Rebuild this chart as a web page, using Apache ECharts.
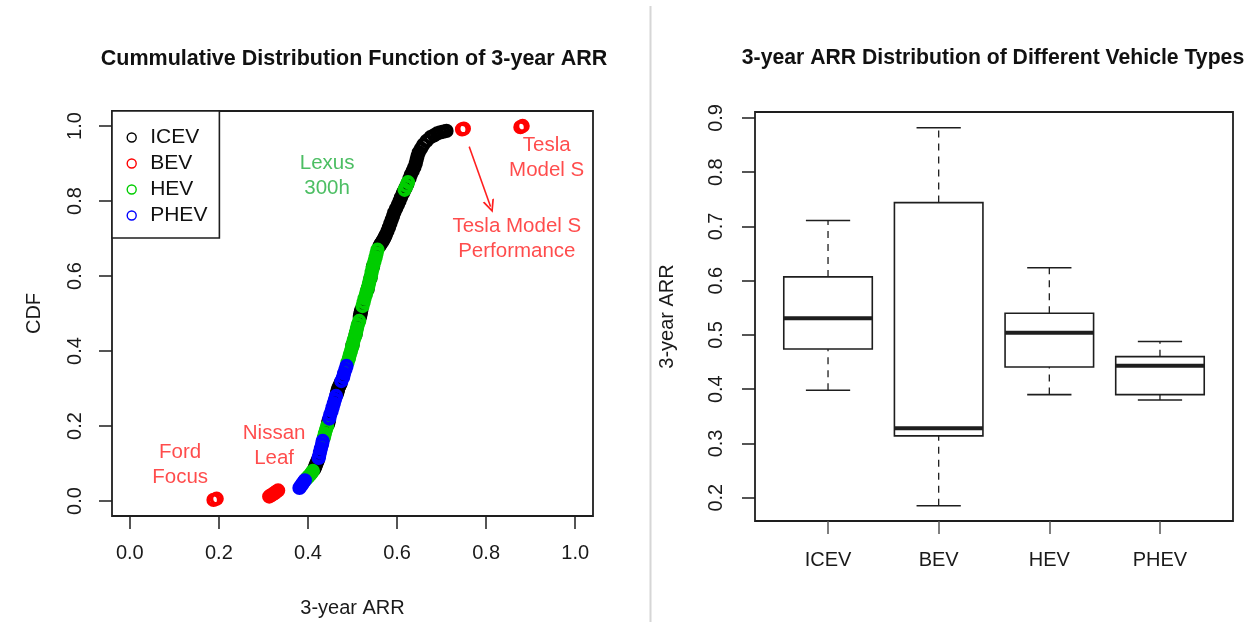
<!DOCTYPE html>
<html>
<head>
<meta charset="utf-8">
<script src="https://cdn.jsdelivr.net/npm/echarts@6.0.0/dist/echarts.min.js"></script>
<style>
  html, body { margin: 0; padding: 0; background: #fff; }
  #chart { width: 1253px; height: 627px; }
</style>
</head>
<body>
<div id="chart"></div>
<script>
// ---- left panel: CDF points [ARR, CDF] per vehicle type ----
var icevPoints = [
  [0.414,0.085],[0.416,0.09],[0.4175,0.095],[0.419,0.10],[0.421,0.105],[0.4225,0.11],
  [0.445,0.205],[0.446,0.21],[0.447,0.215],
  [0.4645,0.285],[0.466,0.29],[0.467,0.295],[0.468,0.30],[0.470,0.305],[0.472,0.31],[0.4735,0.315],
  [0.500,0.415],[0.507,0.445],[0.5165,0.49],[0.5175,0.495],[0.518,0.50],[0.519,0.505],[0.520,0.51],
  [0.534,0.565],[0.5405,0.595],[0.546,0.625],
  [0.5605,0.68],[0.563,0.685],[0.566,0.69],[0.5685,0.695],[0.571,0.70],[0.573,0.705],[0.575,0.71],
  [0.5785,0.72],[0.582,0.73],[0.585,0.74],[0.588,0.75],[0.591,0.76],[0.594,0.77],[0.598,0.78],
  [0.602,0.79],[0.6055,0.80],[0.609,0.81],[0.613,0.82],[0.615,0.825],[0.619,0.835],[0.623,0.845],
  [0.628,0.86],[0.631,0.87],[0.635,0.88],[0.639,0.89],[0.642,0.90],[0.644,0.91],[0.646,0.92],
  [0.649,0.93],[0.654,0.94],[0.659,0.95],[0.666,0.96],[0.675,0.97],[0.683,0.975],[0.690,0.98],
  [0.697,0.983],[0.704,0.985],[0.711,0.987]
];
var bevPoints = [
  [0.188,0.003],[0.195,0.006],
  [0.313,0.012],[0.317,0.015],[0.321,0.018],[0.325,0.021],[0.329,0.025],[0.333,0.028],
  [0.746,0.991],[0.750,0.993],
  [0.877,0.997],[0.882,1.0]
];
var hevPoints = [
  [0.397,0.06],[0.401,0.065],[0.405,0.07],[0.408,0.075],[0.411,0.08],
  [0.436,0.17],[0.438,0.18],[0.4405,0.19],[0.443,0.20],
  [0.489,0.37],[0.492,0.38],[0.494,0.39],[0.4965,0.40],[0.499,0.41],[0.501,0.42],[0.503,0.43],
  [0.506,0.44],[0.508,0.45],[0.510,0.46],[0.512,0.47],[0.515,0.48],
  [0.5225,0.52],[0.525,0.53],[0.527,0.54],[0.530,0.55],[0.532,0.56],[0.535,0.57],[0.537,0.58],
  [0.539,0.59],[0.5415,0.60],[0.543,0.61],[0.545,0.62],[0.547,0.63],[0.5495,0.64],[0.552,0.65],
  [0.554,0.66],[0.556,0.67],
  [0.617,0.83],[0.621,0.84],[0.6245,0.85]
];
var phevPoints = [
  [0.381,0.035],[0.384,0.04],[0.387,0.045],[0.390,0.05],[0.393,0.055],
  [0.424,0.115],[0.425,0.12],[0.427,0.13],[0.429,0.14],[0.4315,0.15],[0.433,0.16],
  [0.448,0.22],[0.450,0.23],[0.453,0.24],[0.4555,0.25],[0.458,0.26],[0.4605,0.27],[0.463,0.28],
  [0.475,0.32],[0.479,0.33],[0.481,0.34],[0.484,0.35],[0.4865,0.36]
];
var cdfTicks = [0, 0.2, 0.4, 0.6, 0.8, 1.0];

// text notes on the CDF panel
var noteLabels = ['Ford\nFocus', 'Nissan\nLeaf', 'Lexus\n300h', 'Tesla\nModel S', 'Tesla Model S\nPerformance'];
var noteX = [0.113, 0.324, 0.443, 0.936, 0.869];
var noteY = [0.097, 0.147, 0.866, 0.914, 0.699];
var noteColors = ['#ff1f1f', '#ff1f1f', '#1fae3c', '#ff1f1f', '#ff1f1f'];
var arrowFrom = [0.762, 0.945];
var arrowTo = [0.810, 0.785];

// ---- right panel: box plot stats ----
var typeNames = ['ICEV', 'BEV', 'HEV', 'PHEV'];
var boxMin = [0.398, 0.185, 0.390, 0.380];
var boxQ1 = [0.474, 0.314, 0.441, 0.390];
var boxMedian = [0.531, 0.328, 0.504, 0.443];
var boxQ3 = [0.607, 0.744, 0.540, 0.460];
var boxMax = [0.711, 0.882, 0.624, 0.488];
var arrTicks = [0.2, 0.3, 0.4, 0.5, 0.6, 0.7, 0.8, 0.9];

var typeColors = { ICEV: '#000000', BEV: '#ff0000', HEV: '#00cd00', PHEV: '#0000ff' };
var FONT = 'Liberation Sans, Arial, Helvetica, sans-serif';
var INK = '#1e1e1e';

var chart = echarts.init(document.getElementById('chart'), null, { renderer: 'canvas' });

function pointSeries(name, pts) {
  return {
    name: name,
    type: 'scatter',
    xAxisIndex: 0,
    yAxisIndex: 0,
    data: pts,
    symbol: 'circle',
    symbolSize: 10.5,
    itemStyle: { color: 'rgba(0,0,0,0)', borderColor: typeColors[name], borderWidth: 3.8, opacity: 1 },
    emphasis: { disabled: true },
    silent: true
  };
}

var noteData = noteLabels.map(function (t, i) {
  return { name: t, value: [noteX[i], noteY[i]], label: { color: noteColors[i] } };
});

var boxData = typeNames.map(function (n, i) {
  return [i + 1, boxMin[i], boxQ1[i], boxMedian[i], boxQ3[i], boxMax[i]];
});

// R-style box: dashed whiskers, half-width staples, thick median
function renderBox(params, api) {
  var x = api.value(0);
  var halfBox = api.size([0.4, 0])[0];
  var halfCap = halfBox / 2;
  var pMin = api.coord([x, api.value(1)]);
  var pQ1 = api.coord([x, api.value(2)]);
  var pMed = api.coord([x, api.value(3)]);
  var pQ3 = api.coord([x, api.value(4)]);
  var pMax = api.coord([x, api.value(5)]);
  var dash = { stroke: INK, lineWidth: 1.3, lineDash: [7, 6], fill: null };
  var solid = { stroke: INK, lineWidth: 1.6, fill: null };
  return {
    type: 'group',
    children: [
      { type: 'line', shape: { x1: pQ3[0], y1: pQ3[1], x2: pMax[0], y2: pMax[1] }, style: dash },
      { type: 'line', shape: { x1: pMin[0], y1: pMin[1], x2: pQ1[0], y2: pQ1[1] }, style: dash },
      { type: 'line', shape: { x1: pMax[0] - halfCap, y1: pMax[1], x2: pMax[0] + halfCap, y2: pMax[1] }, style: solid },
      { type: 'line', shape: { x1: pMin[0] - halfCap, y1: pMin[1], x2: pMin[0] + halfCap, y2: pMin[1] }, style: solid },
      { type: 'rect', shape: { x: pQ3[0] - halfBox, y: pQ3[1], width: halfBox * 2, height: pQ1[1] - pQ3[1] },
        style: { stroke: INK, lineWidth: 1.6, fill: '#fff' } },
      { type: 'line', shape: { x1: pMed[0] - halfBox, y1: pMed[1], x2: pMed[0] + halfBox, y2: pMed[1] },
        style: { stroke: INK, lineWidth: 4 } }
    ]
  };
}

var tickStyle = { color: INK, width: 1.5 };
var labelStyle = { fontFamily: FONT, fontSize: 20, color: '#1a1a1a' };
var noAxisLine = { show: false, onZero: false };

var option = {
  animation: false,
  backgroundColor: '#fff',
  textStyle: { fontFamily: FONT },
  title: [
    { text: 'Cummulative Distribution Function of 3-year ARR', left: 354, top: 48, textAlign: 'center', padding: 0,
      textStyle: { fontFamily: FONT, fontSize: 21.5, fontWeight: 'bold', color: '#111' } },
    { text: '3-year ARR Distribution of Different Vehicle Types', left: 993, top: 48, textAlign: 'center', padding: 0,
      textStyle: { fontFamily: FONT, fontSize: 21.2, fontWeight: 'bold', color: '#111' } }
  ],
  legend: {
    data: typeNames.map(function (n) {
      return { name: n, icon: 'circle', itemStyle: { color: 'rgba(0,0,0,0)', borderColor: typeColors[n], borderWidth: 1.4 } };
    }),
    orient: 'vertical',
    left: 112,
    top: 111,
    itemWidth: 27,
    itemHeight: 9,
    itemGap: 5,
    padding: [16, 12, 12, 14.5],
    borderColor: INK,
    borderWidth: 1.6,
    backgroundColor: '#fff',
    selectedMode: false,
    textStyle: { fontFamily: FONT, fontSize: 21, lineHeight: 20, color: '#111' }
  },
  grid: [
    { left: 112, top: 111, width: 481, height: 405, show: true, borderColor: INK, borderWidth: 1.8, backgroundColor: 'transparent' },
    { left: 755, top: 112, width: 478, height: 409, show: true, borderColor: INK, borderWidth: 1.8, backgroundColor: 'transparent' }
  ],
  xAxis: [
    {
      type: 'value', gridIndex: 0, min: -0.04, max: 1.04,
      axisLine: noAxisLine, splitLine: { show: false },
      axisTick: { show: true, inside: false, length: 13, lineStyle: tickStyle, customValues: cdfTicks },
      axisLabel: Object.assign({ margin: 27, customValues: cdfTicks, formatter: function (v) { return v.toFixed(1); } }, labelStyle),
      name: '3-year ARR', nameLocation: 'middle', nameGap: 82,
      nameTextStyle: { fontFamily: FONT, fontSize: 20, color: '#1a1a1a' }
    },
    {
      type: 'value', gridIndex: 1, min: 0.34, max: 4.66,
      axisLine: noAxisLine, splitLine: { show: false },
      axisTick: { show: true, inside: false, length: 13, lineStyle: { color: '#555', width: 1.5 }, customValues: [1, 2, 3, 4] },
      axisLabel: Object.assign({ margin: 29, customValues: [1, 2, 3, 4], formatter: function (v) { return typeNames[Math.round(v) - 1]; } }, labelStyle)
    }
  ],
  yAxis: [
    {
      type: 'value', gridIndex: 0, min: -0.04, max: 1.04,
      axisLine: noAxisLine, splitLine: { show: false },
      axisTick: { show: true, inside: false, length: 13, lineStyle: tickStyle, customValues: cdfTicks },
      axisLabel: Object.assign({ margin: 27, rotate: 90, customValues: cdfTicks, formatter: function (v) { return v.toFixed(1); } }, labelStyle),
      name: 'CDF', nameLocation: 'middle', nameGap: 68,
      nameTextStyle: { fontFamily: FONT, fontSize: 20, color: '#1a1a1a' }
    },
    {
      type: 'value', gridIndex: 1, min: 0.157, max: 0.911,
      axisLine: noAxisLine, splitLine: { show: false },
      axisTick: { show: true, inside: false, length: 13, lineStyle: tickStyle, customValues: arrTicks },
      axisLabel: Object.assign({ margin: 29, rotate: 90, customValues: arrTicks, formatter: function (v) { return v.toFixed(1); } }, labelStyle),
      name: '3-year ARR', nameLocation: 'middle', nameGap: 78,
      nameTextStyle: { fontFamily: FONT, fontSize: 20, color: '#1a1a1a' }
    }
  ],
  series: [
    pointSeries('ICEV', icevPoints),
    pointSeries('BEV', bevPoints),
    pointSeries('HEV', hevPoints),
    pointSeries('PHEV', phevPoints),
    {
      name: 'notes',
      type: 'scatter',
      xAxisIndex: 0,
      yAxisIndex: 0,
      symbol: 'circle',
      symbolSize: 0,
      silent: true,
      data: noteData,
      label: {
        show: true, position: 'inside', align: 'center',
        formatter: function (p) { return p.name; },
        fontFamily: FONT, fontSize: 20.5, lineHeight: 25
      },
      markLine: {
        silent: true,
        // open "V" arrow head like R's arrows()
        symbol: ['none', 'path://M5,0 L10,10 L8.4,10 L5,3 L1.6,10 L0,10 Z'],
        symbolSize: [12, 13],
        label: { show: false },
        lineStyle: { color: '#ff1f1f', width: 1.5, type: 'solid' },
        data: [[{ coord: arrowFrom }, { coord: arrowTo }]]
      }
    },
    {
      name: 'boxes',
      type: 'custom',
      xAxisIndex: 1,
      yAxisIndex: 1,
      data: boxData,
      encode: { x: 0, y: [1, 2, 3, 4, 5] },
      renderItem: renderBox,
      silent: true
    }
  ],
  graphic: [
    // thin gray divider between the two panels
    { type: 'line', shape: { x1: 650.5, y1: 6, x2: 650.5, y2: 622 }, style: { stroke: '#d6d6d6', lineWidth: 2 } }
  ]
};

chart.setOption(option);
</script>
</body>
</html>
